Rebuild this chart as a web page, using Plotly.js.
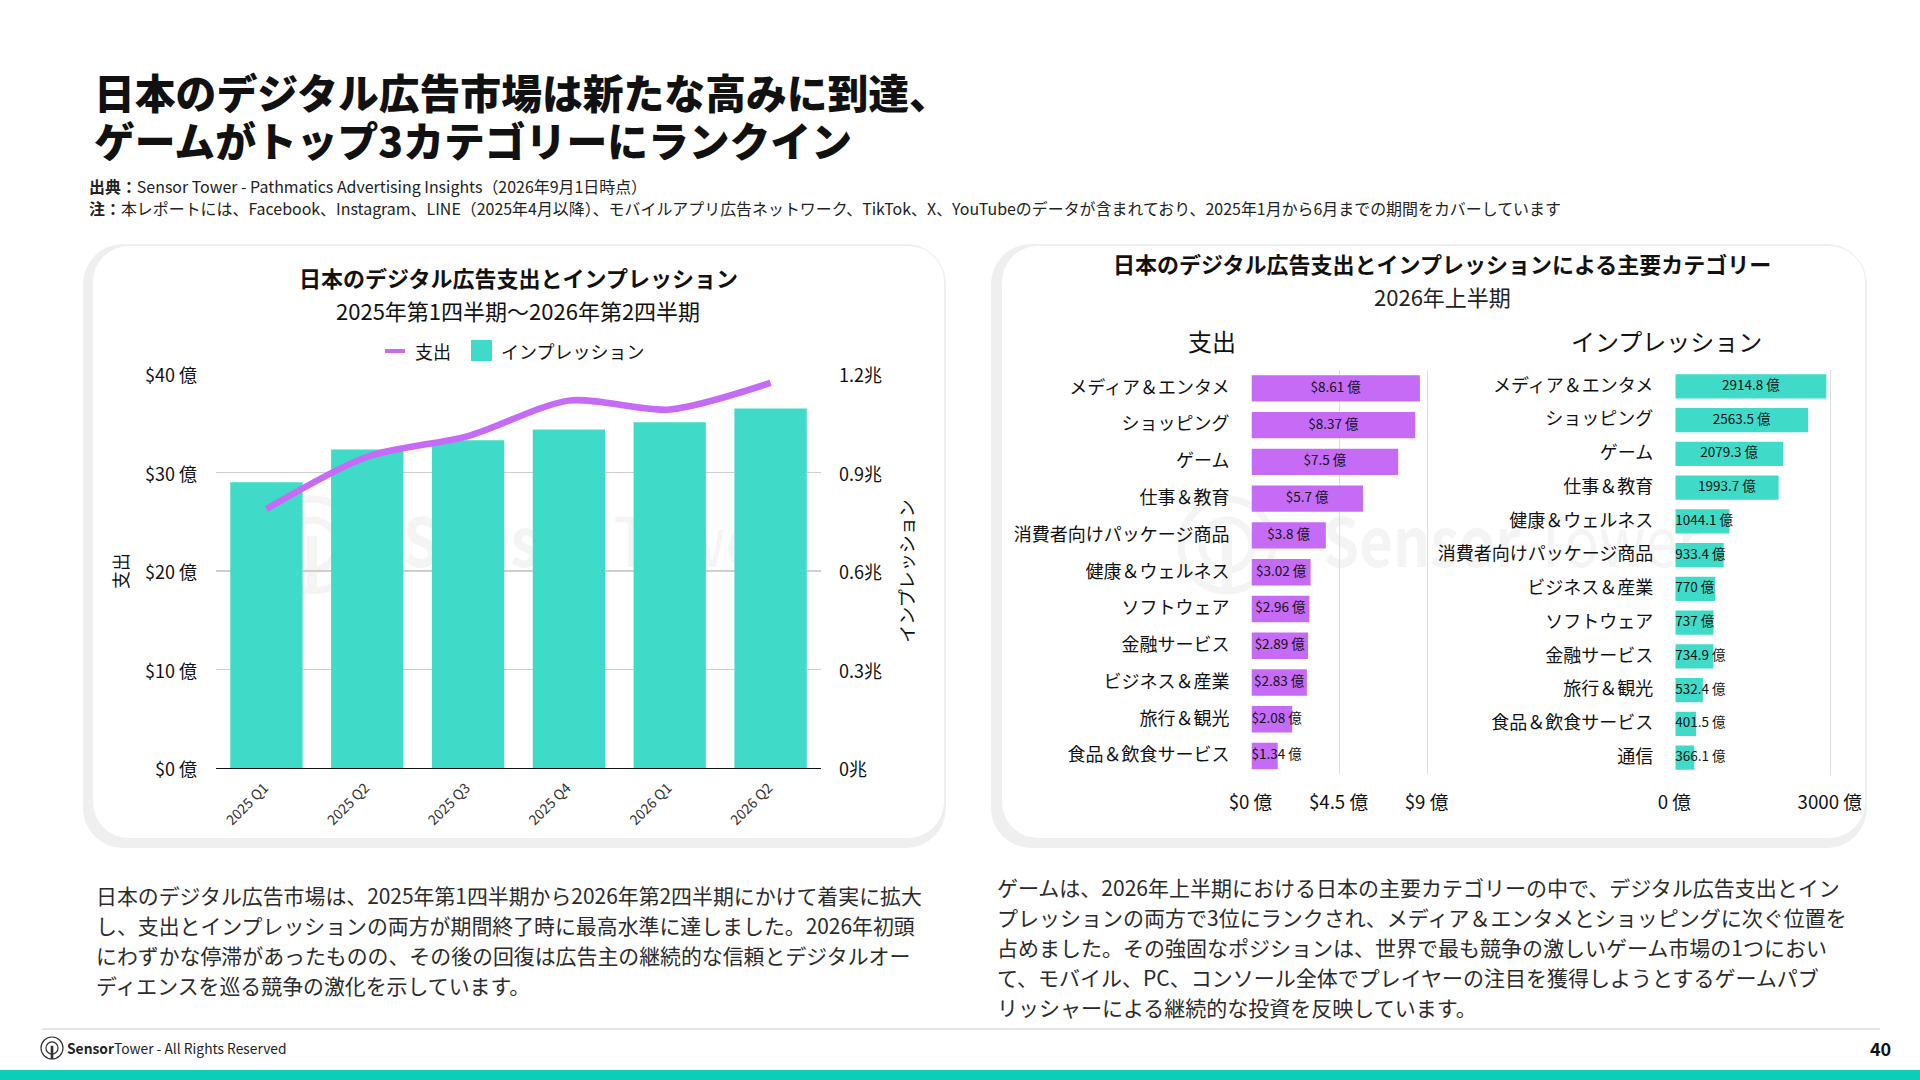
<!DOCTYPE html>
<html><head><meta charset="utf-8">
<script src="https://cdn.plot.ly/plotly-3.0.1.min.js"></script>
<style>html,body{margin:0;padding:0;background:#fff}#c{width:1920px;height:1080px}</style>
</head><body><div id="c"></div>
<script>
const quarters=["2025 Q1","2025 Q2","2025 Q3","2025 Q4","2026 Q1","2026 Q2"];
const spendTrend=[26.3,31.6,33.7,37.3,36.4,39.1];
const impressionTrend=[0.870,0.970,0.998,1.031,1.053,1.095];
const leftTickVals=[0,10,20,30,40];
const leftTickText=["$0 億","$10 億","$20 億","$30 億","$40 億"];
const rightTickVals=[0,0.3,0.6,0.9,1.2];
const rightTickText=["0兆","0.3兆","0.6兆","0.9兆","1.2兆"];
const spendCats=["メディア＆エンタメ","ショッピング","ゲーム","仕事＆教育","消費者向けパッケージ商品","健康＆ウェルネス","ソフトウェア","金融サービス","ビジネス＆産業","旅行＆観光","食品＆飲食サービス"];
const spendVals=[8.61,8.37,7.5,5.7,3.8,3.02,2.96,2.89,2.83,2.08,1.34];
const imprCats=["メディア＆エンタメ","ショッピング","ゲーム","仕事＆教育","健康＆ウェルネス","消費者向けパッケージ商品","ビジネス＆産業","ソフトウェア","金融サービス","旅行＆観光","食品＆飲食サービス","通信"];
const imprVals=[2914.8,2563.5,2079.3,1993.7,1044.1,933.4,770,737,734.9,532.4,401.5,366.1];
const FONT='"Noto Sans CJK JP","Noto Sans",sans-serif';
const TEAL='#40DBC8',PURPLE='#C56BF5',INK='#111111',BODY='#2b2b2b';
const W=1920,H=1080;
const px=x=>x/W,py=y=>1-y/H;
function T(x,y,text,size,anchor,extra){
 const e=extra||{};
 return {xref:'paper',yref:'paper',x:px(x),y:py(y),text,showarrow:false,xanchor:anchor||'left',yanchor:'middle',align:anchor||'left',font:{family:FONT,size,color:e.color||INK,weight:e.weight||400}};
}
function box(x0,y0,x1,y1,fill,type,line){return {type:type||'rect',xref:'paper',yref:'paper',x0:px(x0),x1:px(x1),y0:py(y1),y1:py(y0),fillcolor:fill,line:line||{width:0},layer:'below'};}
function mark(cx,cy,r,color,w){return [
 box(cx-r,cy-r,cx+r,cy+r,'rgba(0,0,0,0)','circle',{color,width:w}),
 box(cx-r*.55,cy-r*.55,cx+r*.55,cy+r*.55,'rgba(0,0,0,0)','circle',{color,width:w}),
 box(cx-r*.12,cy-r*.2,cx+r*.12,cy+r,color)];}
const WM='#f4f4f5';
const card=(x0,y0,x1,y1,r,f)=>`<rect x="${x0}" y="${y0}" width="${x1-x0}" height="${y1-y0}" rx="${r}" ry="${r}" fill="${f}"/>`;
const wmLogo=(cx,cy)=>`<circle cx="${cx}" cy="${cy}" r="46" fill="none" stroke="${WM}" stroke-width="7"/><circle cx="${cx}" cy="${cy}" r="25" fill="none" stroke="${WM}" stroke-width="7"/><rect x="${cx-5}" y="${cy-9}" width="10" height="55" fill="${WM}"/>`;
const wmText=x=>`<text x="${x}" y="567" textLength="377" lengthAdjust="spacingAndGlyphs" font-family="Noto Sans CJK JP" font-size="68" fill="${WM}"><tspan font-weight="700">Sensor</tspan><tspan> Tower</tspan></text>`;
const bgSvg=`<svg xmlns="http://www.w3.org/2000/svg" width="1920" height="1080" viewBox="0 0 1920 1080">`+
 card(83,244,946,848,40,'#efefef')+card(93,246,944,838,36,'#ffffff')+
 card(991,244,1867,848,40,'#efefef')+card(1002,246,1865,838,36,'#ffffff')+
 wmLogo(312,545)+wmLogo(1227,545)+wmText(403)+wmText(1323)+`</svg>`;
const bgSrc='data:image/svg+xml;charset=utf-8,'+encodeURIComponent(bgSvg);
const shapes=[
 box(385,351,405,351,'rgba(0,0,0,0)','line',{color:PURPLE,width:4}),
 box(471,340,492,361,TEAL),
 box(42,1028,1880,1030,'#e6e6e6'),
 box(0,1070,1920,1080,'#0ccdb8'),
 ...mark(52,1048,11,'#333333',1.2)
];
const sub={color:'#222'},bd={color:BODY};
const annotations=[
 T(92,91,'日本のデジタル広告市場は新たな高みに到達、',40.8,'left',{weight:900}),
 T(92,139,'ゲームがトップ3カテゴリーにランクイン',40.8,'left',{weight:900}),
 T(87,186,'<b>出典：</b>Sensor Tower - Pathmatics Advertising Insights（2026年9月1日時点）',15.95,'left',sub),
 T(87,208,'<b>注：</b>本レポートには、Facebook、Instagram、LINE（2025年4月以降）、モバイルアプリ広告ネットワーク、TikTok、X、YouTubeのデータが含まれており、2025年1月から6月までの期間をカバーしています',15.95,'left',sub),
 T(518,277,'<b>日本のデジタル広告支出とインプレッション</b>',22,'center'),
 T(518,310,'2025年第1四半期～2026年第2四半期',22,'center'),
 T(413,351,'支出',18),T(499,351,'インプレッション',18),
 T(1442,263,'<b>日本のデジタル広告支出とインプレッションによる主要カテゴリー</b>',22,'center'),
 T(1442,296,'2026年上半期',22,'center',sub),
 T(1212,340,'支出',24,'center'),T(1666,340,'インプレッション',24,'center'),
 T(94,895,'日本のデジタル広告市場は、2025年第1四半期から2026年第2四半期にかけて着実に拡大',20.9,'left',bd),
 T(94,925,'し、支出とインプレッションの両方が期間終了時に最高水準に達しました。2026年初頭',20.9,'left',bd),
 T(94,955,'にわずかな停滞があったものの、その後の回復は広告主の継続的な信頼とデジタルオー',20.9,'left',bd),
 T(94,985,'ディエンスを巡る競争の激化を示しています。',20.9,'left',bd),
 T(995,887,'ゲームは、2026年上半期における日本の主要カテゴリーの中で、デジタル広告支出とイン',21,'left',bd),
 T(995,917,'プレッションの両方で3位にランクされ、メディア＆エンタメとショッピングに次ぐ位置を',21,'left',bd),
 T(995,947,'占めました。その強固なポジションは、世界で最も競争の激しいゲーム市場の1つにおい',21,'left',bd),
 T(995,977,'て、モバイル、PC、コンソール全体でプレイヤーの注目を獲得しようとするゲームパブ',21,'left',bd),
 T(995,1007,'リッシャーによる継続的な投資を反映しています。',21,'left',bd),
 T(65,1048,'<b>Sensor</b>Tower - All Rights Reserved',13.8,'left',sub),
 T(1880,1048,'<b>40</b>',18,'center')
];
const tickFont={family:FONT,size:18,color:INK};
const traces=[
 {type:'bar',x:quarters,y:impressionTrend,name:'インプレッション',xaxis:'x',yaxis:'y',marker:{color:TEAL},hoverinfo:'skip'},
 {type:'scatter',mode:'lines',x:quarters,y:spendTrend,name:'支出',xaxis:'x',yaxis:'y2',line:{color:PURPLE,width:6.5,shape:'spline',smoothing:0.8},hoverinfo:'skip'},
 {type:'bar',orientation:'h',y:spendCats,x:spendVals,xaxis:'x2',yaxis:'y3',marker:{color:PURPLE},name:'支出',hoverinfo:'skip'},
 {type:'scatter',mode:'text',y:spendCats,x:spendVals.map(v=>v>=2.5?v/2:0),text:spendVals.map(v=>`$${v} 億`),textposition:spendVals.map(v=>v>=2.5?'middle center':'middle right'),textfont:{family:FONT,size:13.5,color:INK},xaxis:'x2',yaxis:'y3',cliponaxis:false,hoverinfo:'skip'},
 {type:'bar',orientation:'h',y:imprCats,x:imprVals,xaxis:'x3',yaxis:'y4',marker:{color:TEAL},name:'インプレッション',hoverinfo:'skip'},
 {type:'scatter',mode:'text',y:imprCats,x:imprVals.map(v=>v>=1500?v/2:0),text:imprVals.map(v=>`${v} 億`),textposition:imprVals.map(v=>v>=1500?'middle center':'middle right'),textfont:{family:FONT,size:13.5,color:INK},xaxis:'x3',yaxis:'y4',cliponaxis:false,hoverinfo:'skip'}
];
const layout={width:W,height:H,margin:{l:0,r:0,t:0,b:0},paper_bgcolor:'#fff',plot_bgcolor:'rgba(0,0,0,0)',showlegend:false,bargap:0.283,font:{family:FONT,color:INK},shapes,annotations,
 images:[{source:bgSrc,xref:'paper',yref:'paper',x:0,y:1,sizex:1,sizey:1,xanchor:'left',yanchor:'top',sizing:'stretch',layer:'below'}],
 xaxis:{domain:[px(216),px(821)],anchor:'y',type:'category',tickangle:-45,tickfont:{family:FONT,size:14,color:'#333'},ticks:'',ticklabelstandoff:5,ticklabelshift:-2,showgrid:false,showline:true,linecolor:'#111',linewidth:1.2,zeroline:false},
 yaxis:{domain:[py(768),py(374)],anchor:'x',side:'right',range:[0,1.2],tickvals:rightTickVals,ticktext:rightTickText,tickfont:tickFont,ticklabelstandoff:17,ticklabelshift:2,gridcolor:'#cfcfcf',gridwidth:1.2,zeroline:false,showline:false,ticks:'',title:{text:'インプレッション',font:{family:FONT,size:18,color:INK},standoff:20}},
 yaxis2:{domain:[py(768),py(374)],anchor:'x',overlaying:'y',side:'left',range:[0,40],tickvals:leftTickVals,ticktext:leftTickText,tickfont:tickFont,ticklabelstandoff:18,ticklabelshift:2,showgrid:false,zeroline:false,showline:false,ticks:'',title:{text:'支出',font:{family:FONT,size:18,color:INK},standoff:11}},
 xaxis2:{domain:[px(1251.5),px(1429.5)],anchor:'y3',range:[0,9.1],tickvals:[0,4.5,9],ticktext:['$0 億','$4.5 億','$9 億'],tickfont:{family:FONT,size:18.7,color:INK},ticks:'',ticklabelstandoff:15,ticklabelshift:-1,gridcolor:'#dedede',zeroline:false,showline:false},
 yaxis3:{domain:[py(774.4),py(370)],anchor:'x2',type:'category',range:[10.5,-0.5],tickfont:tickFont,ticks:'',ticklabelstandoff:21,ticklabelshift:1,showgrid:false,zeroline:false,showline:false},
 xaxis3:{domain:[px(1675.3),px(1832.3)],anchor:'y4',range:[0,3030],tickvals:[0,3000],ticktext:['0 億','3000 億'],tickfont:{family:FONT,size:18.7,color:INK},ticks:'',ticklabelstandoff:15,ticklabelshift:-1,gridcolor:'#dedede',zeroline:false,showline:false},
 yaxis4:{domain:[py(774.5),py(369.5)],anchor:'x3',type:'category',range:[11.5,-0.5],tickfont:tickFont,ticks:'',ticklabelstandoff:21,ticklabelshift:1,showgrid:false,zeroline:false,showline:false}
};
Plotly.newPlot('c',traces,layout,{staticPlot:true,displayModeBar:false});
</script></body></html>
